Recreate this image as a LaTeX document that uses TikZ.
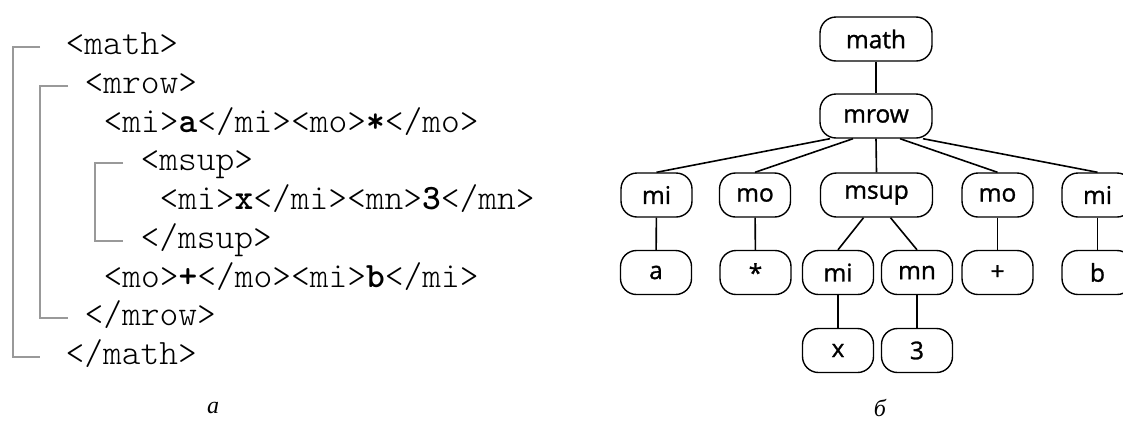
\documentclass[tikz,border=0pt]{standalone}
\usepackage{fontspec}
\newfontfamily\treefont[FakeBold=1.1]{Open Sans}
\newfontfamily\capfont{Liberation Serif}

\begin{document}
\begin{tikzpicture}[x=1pt,y=-1pt,
  codeline/.style={anchor=base west, inner sep=0pt,
    font=\ttfamily\fontseries{l}\fontsize{35.7}{40}\selectfont},
  bracket/.style={draw=black!40, line width=2pt},
  tnode/.style={draw, line width=1.4pt, rounded corners=16pt,
    minimum height=44pt, inner sep=0pt,
    font=\treefont\fontsize{24.5}{28}\selectfont},
  wide/.style={tnode, minimum width=112pt},
  narrow/.style={tnode, minimum width=71pt},
  edge/.style={line width=1.6pt},
  caption/.style={font=\capfont\itshape\fontsize{24}{28}\selectfont}
]
\useasboundingbox (0,0) rectangle (1123,421);
\clip (0,0) rectangle (1123,421);

% ---- MathML source, one line per node (baselines 7.5pt below row centres) ----
\node[codeline] (c1) at (65.5,54.5)   {<math>};
\node[codeline] (c2) at (84.5,93.25)  {<mrow>};
\node[codeline] (c3) at (103.5,132)   {<mi>\textbf{a}</mi><mo>\textbf{*}</mo>};
\node[codeline] (c4) at (140.5,170.75) {<msup>};
\node[codeline] (c5) at (159.5,209.5) {<mi>\textbf{x}</mi><mn>\textbf{3}</mn>};
\node[codeline] (c6) at (140.5,248.25) {</msup>};
\node[codeline] (c7) at (103.5,287)   {<mo>\textbf{+}</mo><mi>\textbf{b}</mi>};
\node[codeline] (c8) at (84.5,325.75) {</mrow>};
\node[codeline] (c9) at (65.5,364.5)  {</math>};

% nesting brackets joining opening and closing tags
\tikzset{tick/.style={xshift=#1, yshift=7.5pt}}
\draw[bracket] ([tick=-25.5pt]c1.base west) -- ++(-27pt,0) |- ([tick=-25.5pt]c9.base west);
\draw[bracket] ([tick=-16.5pt]c2.base west) -- ++(-28pt,0) |- ([tick=-16.5pt]c8.base west);
\draw[bracket] ([tick=-17.5pt]c4.base west) -- ++(-28pt,0) |- ([tick=-17.5pt]c6.base west);

\node[caption] (capa) at (213,408) {а};

% ---- expression tree ----
\node[wide]   (math) at (876,39)     {math};
\node[wide]   (mrow) at (876,116)    {mrow};

\node[narrow] (mi1)  at (656.5,195)  {mi};
\node[narrow] (mo1)  at (755,195)    {mo};
\node[wide]   (msup) at (876.5,195)  {msup};
\node[narrow] (mo2)  at (997.5,195)  {mo};
\node[narrow] (mi2)  at (1097.5,195) {mi};

\node[narrow] (va)   at (656,272.5)  {a};
\node[narrow] (vst)  at (755.5,272.5) {*};
\node[narrow] (mi3)  at (838,272.5)  {mi};
\node[narrow] (mn)   at (917,272.5)  {mn};
\node[narrow] (vpl)  at (997.5,272.5) {+};
\node[narrow] (vb)   at (1097.5,272.5) {b};

\node[narrow] (vx)   at (838,350.5)  {x};
\node[narrow] (v3)   at (917,350.5)  {3};

\draw[edge] (math) -- (mrow);
\draw[edge] ([xshift=-46pt]mrow.south) -- (mi1.north);
\draw[edge] ([xshift=-23pt]mrow.south) -- (mo1.north);
\draw[edge] (mrow.south) -- (msup.north);
\draw[edge] ([xshift=24pt]mrow.south) -- (mo2.north);
\draw[edge] ([xshift=47pt]mrow.south) -- (mi2.north);

\draw[edge] (mi1) -- (va);
\draw[edge] (mo1) -- (vst);
\draw[edge] ([xshift=-13pt]msup.south) -- (mi3.north);
\draw[edge] ([xshift=14pt]msup.south) -- (mn.north);
\draw[edge] (mo2) -- (vpl);
\draw[edge] (mi2) -- (vb);
\draw[edge] (mi3) -- (vx);
\draw[edge] (mn) -- (v3);

\node[caption] (capb) at (880,408) {б};
\end{tikzpicture}
\end{document}
